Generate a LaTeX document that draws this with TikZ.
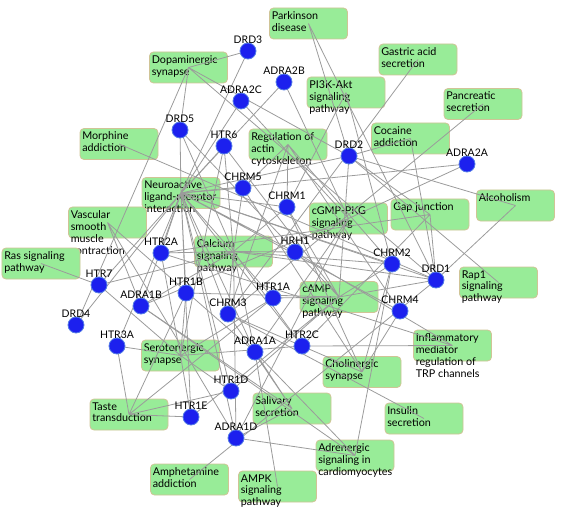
\documentclass[tikz,border=0pt]{standalone}
\usepackage{fontspec}
\setmainfont{Lato}
\definecolor{geneblue}{RGB}{28,32,238}
\definecolor{geneedge}{RGB}{85,125,230}
\definecolor{boxgreen}{RGB}{152,236,152}
\definecolor{boxedge}{RGB}{208,196,150}
\definecolor{linkgray}{RGB}{155,155,155}
\pgfdeclarelayer{boxes}
\pgfdeclarelayer{links}
\pgfsetlayers{boxes,links,main}
\tikzset{
  gene/.style={circle, fill=geneblue, draw=geneedge, line width=0.8bp, minimum size=16bp, inner sep=0pt},
  glabel/.style={font=\fontsize{10.5}{11}\selectfont, inner sep=0pt, label distance=-1bp},
  pbox/.style={rectangle, rounded corners=4bp, fill=boxgreen, draw=boxedge, line width=0.8bp, minimum width=78bp, minimum height=31bp, inner sep=0pt},
  ptext/.style={anchor=north west, align=left, font=\fontsize{10.8}{12}\selectfont, inner sep=0pt, xshift=2.5bp, yshift=-3.5bp},
  link/.style={draw=linkgray, line width=0.8bp}
}
\begin{document}
\begin{tikzpicture}[x=1bp, y=-1bp]
    \useasboundingbox (0,0) rectangle (565,516);
    % pathway boxes
    \begin{pgfonlayer}{boxes}
    \node[pbox] (park) at (308.5, 23.5) {};
    \node[ptext] at (park.north west) {Parkinson\\disease};
    \node[pbox] (dopa) at (188.5, 67.5) {};
    \node[ptext] at (dopa.north west) {Dopaminergic\\synapse};
    \node[pbox] (gastric) at (418, 59.5) {};
    \node[ptext] at (gastric.north west) {Gastric acid\\secretion};
    \node[pbox] (pikt) at (346, 92.5) {};
    \node[ptext] at (pikt.north west) {PI3K-Akt\\signaling\\pathway};
    \node[pbox] (pancr) at (483, 104) {};
    \node[ptext] at (pancr.north west) {Pancreatic\\secretion};
    \node[pbox] (morph) at (119, 144) {};
    \node[ptext] at (morph.north west) {Morphine\\addiction};
    \node[pbox] (actin) at (288, 144.5) {};
    \node[ptext] at (actin.north west) {Regulation of\\actin\\cytoskeleton};
    \node[pbox] (cocaine) at (410.5, 138.5) {};
    \node[ptext] at (cocaine.north west) {Cocaine\\addiction};
    \node[pbox] (neuro) at (181, 193) {};
    \node[ptext] at (neuro.north west) {Neuroactive\\ligand-receptor\\interaction};
    \node[pbox] (vasc) at (107.5, 222.5) {};
    \node[ptext] at (vasc.north west) {Vascular\\smooth\\muscle\\contraction};
    \node[pbox] (ras) at (41, 263.5) {};
    \node[ptext] at (ras.north west) {Ras signaling\\pathway};
    \node[pbox] (calcium) at (233.5, 251.5) {};
    \node[ptext] at (calcium.north west) {Calcium\\signaling\\pathway};
    \node[pbox] (cgmp) at (348.5, 218.5) {};
    \node[ptext] at (cgmp.north west) {cGMP-PKG\\signaling\\pathway};
    \node[pbox] (gap) at (430, 214.5) {};
    \node[ptext] at (gap.north west) {Gap junction};
    \node[pbox] (alcohol) at (515.5, 205.5) {};
    \node[ptext] at (alcohol.north west) {Alcoholism};
    \node[pbox] (rapone) at (498.5, 282.5) {};
    \node[ptext] at (rapone.north west) {Rap1\\signaling\\pathway};
    \node[pbox] (camp) at (339, 297) {};
    \node[ptext] at (camp.north west) {cAMP\\signaling\\pathway};
    \node[pbox] (inflam) at (452.5, 345.5) {};
    \node[ptext] at (inflam.north west) {Inflammatory\\mediator\\regulation of\\TRP channels};
    \node[pbox] (sero) at (180.5, 355.5) {};
    \node[ptext] at (sero.north west) {Serotonergic\\synapse};
    \node[pbox] (choli) at (362, 372) {};
    \node[ptext] at (choli.north west) {Cholinergic\\synapse};
    \node[pbox] (taste) at (129, 414.5) {};
    \node[ptext] at (taste.north west) {Taste\\transduction};
    \node[pbox] (saliv) at (292, 408.5) {};
    \node[ptext] at (saliv.north west) {Salivary\\secretion};
    \node[pbox] (insulin) at (424, 418.5) {};
    \node[ptext] at (insulin.north west) {Insulin\\secretion};
    \node[pbox] (adren) at (355, 455.5) {};
    \node[ptext] at (adren.north west) {Adrenergic\\signaling in\\cardiomyocytes};
    \node[pbox] (amph) at (189.5, 479.5) {};
    \node[ptext] at (amph.north west) {Amphetamine\\addiction};
    \node[pbox] (ampk) at (277.5, 486.5) {};
    \node[ptext] at (ampk.north west) {AMPK\\signaling\\pathway};
    \end{pgfonlayer}
    % genes
    \node[gene, label={[glabel]above:DRD3}] (DRD3) at (248, 51) {};
    \node[gene, label={[glabel]above:ADRA2B}] (ADRA2B) at (284, 82) {};
    \node[gene, label={[glabel]above:ADRA2C}] (ADRA2C) at (241, 101) {};
    \node[gene, label={[glabel]above:DRD5}] (DRD5) at (180, 130) {};
    \node[gene, label={[glabel]above:HTR6}] (HTR6) at (224, 146) {};
    \node[gene, label={[glabel]above:DRD2}] (DRD2) at (349, 156) {};
    \node[gene, label={[glabel]above:ADRA2A}] (ADRA2A) at (467, 164) {};
    \node[gene, label={[glabel]above:CHRM5}] (CHRM5) at (243, 188) {};
    \node[gene, label={[glabel]above:CHRM1}] (CHRM1) at (287, 207) {};
    \node[gene, label={[glabel]above:HRH1}] (HRH1) at (295, 252) {};
    \node[gene, label={[glabel]above:CHRM2}] (CHRM2) at (392, 264) {};
    \node[gene, label={[glabel]above:DRD1}] (DRD1) at (436, 280) {};
    \node[gene, label={[glabel]above:CHRM4}] (CHRM4) at (400, 311) {};
    \node[gene, label={[glabel]above:HTR2A}] (HTR2A) at (161, 253) {};
    \node[gene, label={[glabel]above:HTR7}] (HTR7) at (99, 285) {};
    \node[gene, label={[glabel]above:HTR1B}] (HTR1B) at (186, 293) {};
    \node[gene, label={[glabel]above:ADRA1B}] (ADRA1B) at (141, 306) {};
    \node[gene, label={[glabel]above:CHRM3}] (CHRM3) at (228, 314) {};
    \node[gene, label={[glabel]above:HTR1A}] (HTR1A) at (273, 298) {};
    \node[gene, label={[glabel]above:DRD4}] (DRD4) at (76, 325) {};
    \node[gene, label={[glabel]above:HTR3A}] (HTR3A) at (117, 346) {};
    \node[gene, label={[glabel]above:ADRA1A}] (ADRA1A) at (255, 352) {};
    \node[gene, label={[glabel]above:HTR2C}] (HTR2C) at (302, 346) {};
    \node[gene, label={[glabel]above:HTR1D}] (HTR1D) at (231, 391) {};
    \node[gene, label={[glabel]above:HTR1E}] (HTR1E) at (191, 417) {};
    \node[gene, label={[glabel]above:ADRA1D}] (ADRA1D) at (236, 438) {};
    % links, pathway to gene
    \begin{pgfonlayer}{links}
    \draw[link] (neuro.center) -- (DRD1.center) (neuro.center) -- (DRD2.center) (neuro.center) -- (DRD3.center) (neuro.center) -- (DRD4.center) (neuro.center) -- (DRD5.center);
    \draw[link] (neuro.center) -- (ADRA1A.center) (neuro.center) -- (ADRA1B.center) (neuro.center) -- (ADRA1D.center) (neuro.center) -- (ADRA2A.center) (neuro.center) -- (ADRA2B.center) (neuro.center) -- (ADRA2C.center);
    \draw[link] (neuro.center) -- (HTR1A.center) (neuro.center) -- (HTR1B.center) (neuro.center) -- (HTR1D.center) (neuro.center) -- (HTR1E.center) (neuro.center) -- (HTR2A.center) (neuro.center) -- (HTR2C.center) (neuro.center) -- (HTR3A.center) (neuro.center) -- (HTR6.center) (neuro.center) -- (HTR7.center);
    \draw[link] (neuro.center) -- (CHRM1.center) (neuro.center) -- (CHRM2.center) (neuro.center) -- (CHRM3.center) (neuro.center) -- (CHRM4.center) (neuro.center) -- (CHRM5.center) (neuro.center) -- (HRH1.center);
    \draw[link] (dopa.center) -- (DRD1.center) (dopa.center) -- (DRD2.center) (dopa.center) -- (DRD3.center) (dopa.center) -- (DRD4.center) (dopa.center) -- (DRD5.center);
    \draw[link] (park.center) -- (DRD1.center) (park.center) -- (DRD2.center);
    \draw[link] (gastric.center) -- (CHRM3.center) (pancr.center) -- (CHRM3.center) (insulin.center) -- (CHRM3.center);
    \draw[link] (pikt.center) -- (CHRM1.center) (pikt.center) -- (CHRM2.center);
    \draw[link] (morph.center) -- (DRD1.center) (amph.center) -- (DRD1.center) (rapone.center) -- (DRD2.center);
    \draw[link] (cocaine.center) -- (DRD1.center) (cocaine.center) -- (DRD2.center) (alcohol.center) -- (DRD1.center) (alcohol.center) -- (DRD2.center);
    \draw[link] (actin.center) -- (CHRM1.center) (actin.center) -- (CHRM2.center) (actin.center) -- (CHRM3.center) (actin.center) -- (CHRM4.center) (actin.center) -- (CHRM5.center);
    \draw[link] (choli.center) -- (CHRM1.center) (choli.center) -- (CHRM2.center) (choli.center) -- (CHRM3.center) (choli.center) -- (CHRM4.center) (choli.center) -- (CHRM5.center);
    \draw[link] (gap.center) -- (DRD1.center) (gap.center) -- (DRD2.center) (gap.center) -- (HTR2A.center) (gap.center) -- (HTR2C.center);
    \draw[link] (vasc.center) -- (ADRA1A.center) (vasc.center) -- (ADRA1B.center) (vasc.center) -- (ADRA1D.center) (ras.center) -- (HTR7.center) (ampk.center) -- (ADRA1A.center);
    \draw[link] (calcium.center) -- (ADRA1A.center) (calcium.center) -- (ADRA1B.center) (calcium.center) -- (ADRA1D.center) (calcium.center) -- (CHRM1.center) (calcium.center) -- (CHRM2.center) (calcium.center) -- (CHRM3.center) (calcium.center) -- (CHRM5.center);
    \draw[link] (calcium.center) -- (DRD1.center) (calcium.center) -- (DRD5.center) (calcium.center) -- (HRH1.center) (calcium.center) -- (HTR2A.center) (calcium.center) -- (HTR2C.center) (calcium.center) -- (HTR6.center) (calcium.center) -- (HTR7.center);
    \draw[link] (camp.center) -- (DRD1.center) (camp.center) -- (DRD2.center) (camp.center) -- (DRD5.center) (camp.center) -- (HTR1A.center) (camp.center) -- (HTR1B.center) (camp.center) -- (HTR1D.center) (camp.center) -- (HTR1E.center) (camp.center) -- (HTR6.center) (camp.center) -- (CHRM1.center) (camp.center) -- (CHRM2.center);
    \draw[link] (cgmp.center) -- (ADRA1A.center) (cgmp.center) -- (ADRA1B.center) (cgmp.center) -- (ADRA1D.center) (cgmp.center) -- (ADRA2A.center) (cgmp.center) -- (ADRA2B.center) (cgmp.center) -- (ADRA2C.center);
    \draw[link] (inflam.center) -- (HTR2A.center) (inflam.center) -- (HTR2C.center) (inflam.center) -- (HRH1.center);
    \draw[link] (sero.center) -- (HTR1A.center) (sero.center) -- (HTR1B.center) (sero.center) -- (HTR1D.center) (sero.center) -- (HTR1E.center) (sero.center) -- (HTR2A.center) (sero.center) -- (HTR2C.center) (sero.center) -- (HTR3A.center) (sero.center) -- (HTR6.center) (sero.center) -- (HTR7.center);
    \draw[link] (taste.center) -- (HTR1A.center) (taste.center) -- (HTR1B.center) (taste.center) -- (HTR1D.center) (taste.center) -- (HTR1E.center) (taste.center) -- (HTR3A.center);
    \draw[link] (saliv.center) -- (ADRA1A.center) (saliv.center) -- (ADRA1B.center) (saliv.center) -- (ADRA1D.center) (saliv.center) -- (CHRM3.center);
    \draw[link] (adren.center) -- (ADRA1A.center) (adren.center) -- (ADRA1B.center) (adren.center) -- (ADRA1D.center) (adren.center) -- (CHRM2.center);
    \end{pgfonlayer}
\end{tikzpicture}
\end{document}
